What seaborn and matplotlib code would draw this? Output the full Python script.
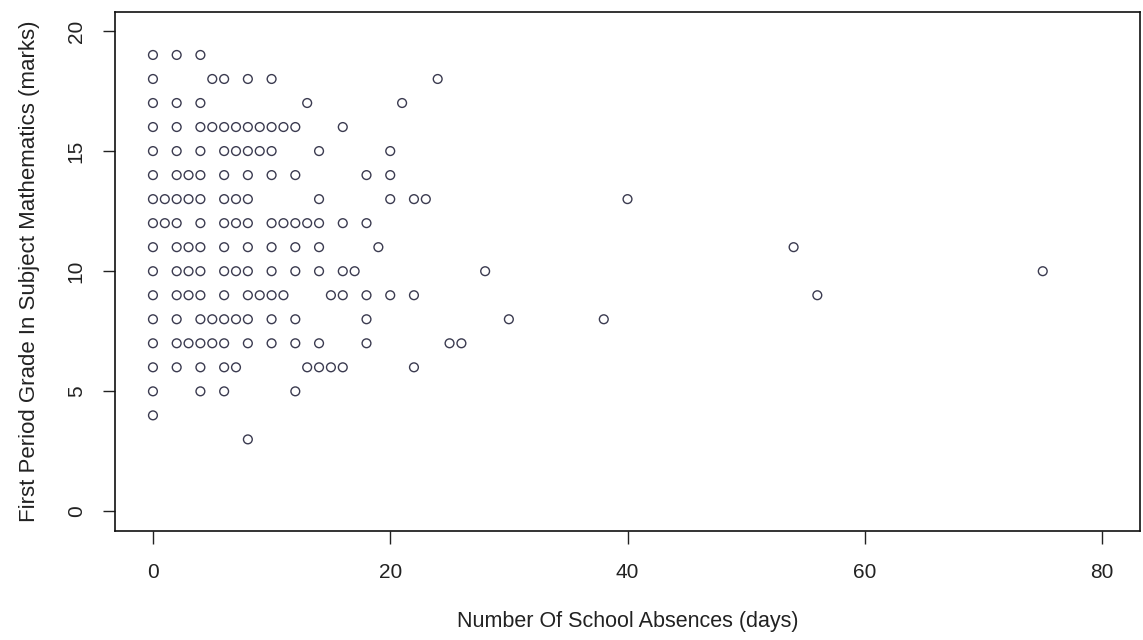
import matplotlib
matplotlib.use("Agg")
import matplotlib.pyplot as plt
import seaborn as sns
import pandas as pd

# First period grade (G1) -> list of absences values observed at that grade
grade_levels = [19, 18, 17, 16, 15, 14, 13, 12, 11, 10, 9, 8, 7, 6, 5, 4, 3]
absences_by_grade = [
    [0, 2, 4],
    [0, 5, 6, 8, 10, 24],
    [0, 2, 4, 13, 21],
    [0, 2, 4, 5, 6, 7, 8, 9, 10, 11, 12, 16],
    [0, 2, 4, 6, 7, 8, 9, 10, 14, 20],
    [0, 2, 3, 4, 6, 8, 10, 12, 18, 20],
    [0, 1, 2, 3, 4, 6, 7, 8, 14, 20, 22, 23, 40],
    [0, 1, 2, 4, 6, 7, 8, 10, 11, 12, 13, 14, 16, 18],
    [0, 2, 3, 4, 6, 8, 10, 12, 14, 19, 54],
    [0, 2, 3, 4, 6, 7, 8, 10, 12, 14, 16, 17, 28, 75],
    [0, 2, 3, 4, 6, 8, 9, 10, 11, 15, 16, 18, 20, 22, 56],
    [0, 2, 4, 5, 6, 7, 8, 10, 12, 18, 30, 38],
    [0, 2, 3, 4, 5, 6, 8, 10, 12, 14, 18, 25, 26],
    [0, 2, 4, 6, 7, 13, 14, 15, 16, 22],
    [0, 4, 6, 12],
    [0],
    [8],
]

x_ticks = [0, 20, 40, 60, 80]
y_ticks = [0, 5, 10, 15, 20]
x_label = "Number Of School Absences (days)"
y_label = "First Period Grade In Subject Mathematics (marks)"

rows = []
for g, xs in zip(grade_levels, absences_by_grade):
    for a in xs:
        rows.append({"absences": a, "G1": g})
df = pd.DataFrame(rows)

sns.set_style("white")
plt.rcParams["font.family"] = ["Liberation Sans", "DejaVu Sans"]

fig = plt.figure(figsize=(11.43, 6.4), dpi=100)
ax = fig.add_axes([0.1006, 0.1708, 0.8968, 0.8109])

sns.scatterplot(data=df, x="absences", y="G1", ax=ax, marker="o",
                s=40, facecolors="none", edgecolor="#3b3b50", linewidth=1.0)

ax.set_xlim(-3.2, 83.2)
ax.set_ylim(-0.8, 20.8)
ax.set_xticks(x_ticks)
ax.set_yticks(y_ticks)
ax.set_xticklabels([str(v) for v in x_ticks], fontsize=15, color="#222222")
ax.set_yticklabels([str(v) for v in y_ticks], fontsize=15, color="#222222",
                   rotation=90, va="center")
ax.tick_params(axis="both", direction="out", length=9, width=1.0,
               color="#222222", bottom=True, left=True)
ax.tick_params(axis="x", pad=14)
ax.tick_params(axis="y", pad=12)
for sp in ax.spines.values():
    sp.set_visible(True)
    sp.set_color("#111111")
    sp.set_linewidth(1.2)

ax.set_xlabel(x_label, fontsize=15.5, color="#222222", labelpad=21)
ax.set_ylabel(y_label, fontsize=16, color="#222222", labelpad=19)

fig.savefig("out.png", dpi=100)
